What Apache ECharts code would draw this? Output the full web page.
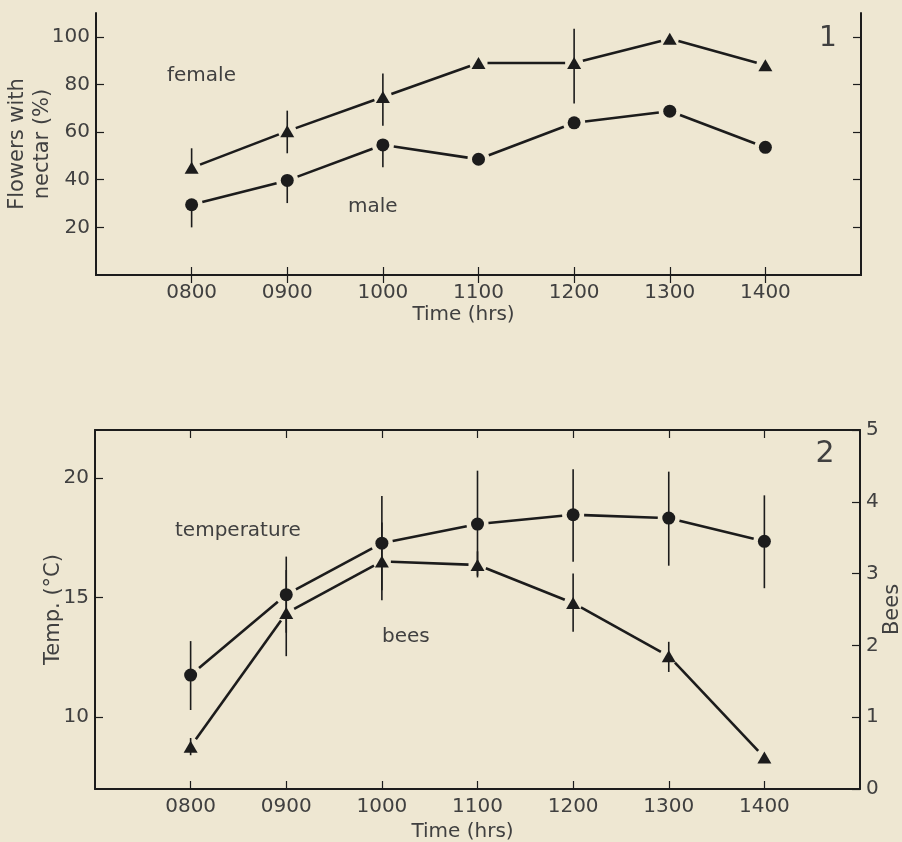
<!DOCTYPE html>
<html>
<head>
<meta charset="utf-8">
<script src="https://cdn.jsdelivr.net/npm/echarts@6/dist/echarts.min.js"></script>
<style>
html,body{margin:0;padding:0;background:#EEE7D2;}
#c{width:902px;height:842px;}
</style>
</head>
<body>
<div id="c"></div>
<script>
// ---- data ----
const times = [8, 9, 10, 11, 12, 13, 14];
const timeLabels = ['0800', '0900', '1000', '1100', '1200', '1300', '1400'];

const female = [45, 60.4, 74.7, 89, 89, 99.2, 88.1];
const femaleErrHigh = [53.2, 69, 84.6, null, 103.4, null, null];
const femaleErrLow = [null, 51.1, 62.7, null, 72, null, null];

const male = [29.5, 39.7, 54.6, 48.6, 63.9, 68.8, 53.6];
const maleErrHigh = [null, null, null, null, null, null, null];
const maleErrLow = [20, 30.2, 45.2, null, null, null, null];

const temperature = [11.76, 15.12, 17.27, 18.07, 18.46, 18.32, 17.35];
const tempErrHigh = [13.18, 16.71, 19.24, 20.3, 20.36, 20.26, 19.27];
const tempErrLow = [10.3, 13.53, 15.3, 15.84, 16.5, 16.33, 15.39];

const bees = [0.59, 2.45, 3.17, 3.12, 2.59, 1.85, 0.44];
const beesErrHigh = [0.71, 3.05, 3.71, 3.31, 3.0, 2.05, null];
const beesErrLow = [0.47, 1.85, 2.63, 2.97, 2.19, 1.63, null];

const flowerTicks = [20, 40, 60, 80, 100];
const tempTicks = [10, 15, 20];
const beeTicks = [0, 1, 2, 3, 4, 5];

// ---- style ----
const BG = '#EEE7D2';
const INK = '#1c1c1c';
const TXT = '#404040';
const FONT = 'DejaVu Sans';
const FW = 'normal';

const pairs = (vals) => times.map((t, i) => [t, vals[i]]);
const segs = (vals) => times.slice(0, -1).map((t, i) => [t, vals[i], times[i + 1], vals[i + 1]]);
const errData = (vals, lo, hi) => times.map((t, i) => {
  if (lo[i] == null && hi[i] == null) return null;
  return [t, lo[i] == null ? vals[i] : lo[i], hi[i] == null ? vals[i] : hi[i]];
}).filter(d => d);

function xAxisDef(gridIndex, position, showLabel) {
  return {
    type: 'value', gridIndex, position, min: 7, max: 15,
    nameMoveOverlap: false,
    axisLine: { show: true, lineStyle: { color: INK, width: 2 } },
    axisTick: { show: true, inside: true, length: 8, customValues: times, lineStyle: { color: INK, width: 1.2 } },
    axisLabel: {
      show: showLabel, customValues: times, margin: 8,
      formatter: v => timeLabels[times.indexOf(v)] || '',
      color: TXT, fontSize: 20, fontFamily: FONT, fontWeight: FW
    },
    splitLine: { show: false }
  };
}

function yAxisDef(gridIndex, position, min, max, ticks, showLabel, extra) {
  return Object.assign({
    type: 'value', gridIndex, position, min, max,
    nameMoveOverlap: false,
    axisLine: { show: true, lineStyle: { color: INK, width: 2 } },
    axisTick: { show: true, inside: true, length: 8, customValues: ticks, lineStyle: { color: INK, width: 1.2 } },
    axisLabel: {
      show: showLabel, customValues: ticks, margin: 6,
      color: TXT, fontSize: 20, fontFamily: FONT, fontWeight: FW
    },
    splitLine: { show: false },
    nameTextStyle: { color: TXT, fontSize: 21, fontFamily: FONT, fontWeight: FW, lineHeight: 25 }
  }, extra || {});
}

// line segments that stop short of the markers, as in the printed figure
function lineSeries(vals, xi, yi, gap) {
  return {
    type: 'custom', xAxisIndex: xi, yAxisIndex: yi, z: 2, silent: true,
    data: segs(vals),
    encode: { x: [0, 2], y: [1, 3] },
    renderItem: (params, api) => {
      const a = api.coord([api.value(0), api.value(1)]);
      const b = api.coord([api.value(2), api.value(3)]);
      const dx = b[0] - a[0], dy = b[1] - a[1];
      const len = Math.sqrt(dx * dx + dy * dy);
      const ux = dx / len, uy = dy / len;
      return {
        type: 'line',
        shape: { x1: a[0] + ux * gap, y1: a[1] + uy * gap, x2: b[0] - ux * gap, y2: b[1] - uy * gap },
        style: { stroke: INK, lineWidth: 2.6 }
      };
    }
  };
}
function errSeries(vals, lo, hi, xi, yi) {
  return {
    type: 'custom', xAxisIndex: xi, yAxisIndex: yi, z: 4, silent: true,
    data: errData(vals, lo, hi),
    encode: { x: 0, y: [1, 2] },
    renderItem: (params, api) => {
      const a = api.coord([api.value(0), api.value(1)]);
      const b = api.coord([api.value(0), api.value(2)]);
      return {
        type: 'line',
        shape: { x1: a[0], y1: a[1], x2: b[0], y2: b[1] },
        style: { stroke: INK, lineWidth: 1.6 }
      };
    }
  };
}
function markerSeries(vals, xi, yi, symbol, size) {
  return {
    type: 'scatter', xAxisIndex: xi, yAxisIndex: yi, data: pairs(vals),
    symbol, symbolSize: size, z: 5,
    itemStyle: { color: INK, opacity: 1 }, silent: true
  };
}

function label(text, x, y, size, align) {
  return {
    type: 'text', x, y, z: 10, silent: true,
    style: { text, fill: TXT, fontSize: size, fontFamily: FONT, fontWeight: FW,
             align: align || 'left', verticalAlign: 'middle' }
  };
}

const chart = echarts.init(document.getElementById('c'), null, { renderer: 'canvas' });
chart.setOption({
  backgroundColor: BG,
  animation: false,
  grid: [
    { left: 96, right: 41, top: 13, height: 262, containLabel: false, outerBoundsMode: 'none' },
    { left: 95, right: 42, top: 430, height: 359, containLabel: false, outerBoundsMode: 'none' }
  ],
  xAxis: [
    Object.assign(xAxisDef(0, 'bottom', true), {
      name: 'Time (hrs)', nameLocation: 'middle', nameGap: 30,
      nameTextStyle: { color: TXT, fontSize: 20, fontFamily: FONT, fontWeight: FW, padding: [0, 30, 0, 0] }
    }),
    xAxisDef(0, 'top', false),
    Object.assign(xAxisDef(1, 'bottom', true), {
      name: 'Time (hrs)', nameLocation: 'middle', nameGap: 33,
      nameTextStyle: { color: TXT, fontSize: 20, fontFamily: FONT, fontWeight: FW, padding: [0, 30, 0, 0] }
    }),
    xAxisDef(1, 'top', false)
  ],
  yAxis: [
    yAxisDef(0, 'left', 0, 110, flowerTicks, true, {
      name: 'Flowers with\nnectar (%)', nameLocation: 'middle', nameRotate: 90, nameGap: 41
    }),
    yAxisDef(0, 'right', 0, 110, flowerTicks, false),
    yAxisDef(1, 'left', 7, 22, tempTicks, true, {
      name: 'Temp. (°C)', nameLocation: 'middle', nameRotate: 90, nameGap: 29
    }),
    yAxisDef(1, 'right', 0, 5, beeTicks, true, {
      name: 'Bees', nameLocation: 'middle', nameRotate: 90, nameGap: 20
    })
  ],
  series: [
    lineSeries(female, 0, 0, 9),
    lineSeries(male, 0, 0, 11),
    errSeries(female, femaleErrLow, femaleErrHigh, 0, 0),
    errSeries(male, maleErrLow, maleErrHigh, 0, 0),
    markerSeries(female, 0, 0, 'triangle', [14, 12]),
    markerSeries(male, 0, 0, 'circle', 13),

    lineSeries(temperature, 2, 2, 11),
    lineSeries(bees, 2, 3, 9),
    errSeries(temperature, tempErrLow, tempErrHigh, 2, 2),
    errSeries(bees, beesErrLow, beesErrHigh, 2, 3),
    markerSeries(temperature, 2, 2, 'circle', 13),
    markerSeries(bees, 2, 3, 'triangle', [14, 12])
  ],
  graphic: [
    label('female', 167, 76, 20),
    label('male', 348, 207, 20),
    label('1', 828, 39, 28, 'center'),
    label('temperature', 175, 531, 20),
    label('bees', 382, 637, 20),
    label('2', 825, 454, 30, 'center')
  ]
});
</script>
</body>
</html>
